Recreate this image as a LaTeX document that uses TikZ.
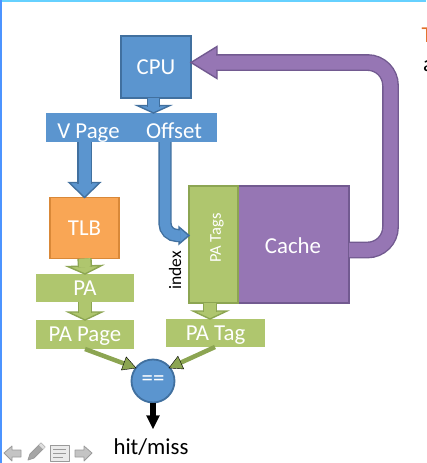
\documentclass[tikz,border=0pt]{standalone}
\usepackage{fontspec}
\setmainfont{Carlito}
\usetikzlibrary{calc}
\definecolor{bluefill}{HTML}{5B95CF}
\definecolor{blueline}{HTML}{41709F}
\definecolor{greenfill}{HTML}{AFC66E}
\definecolor{greenline}{HTML}{8CA552}
\definecolor{purplefill}{HTML}{9676B4}
\definecolor{purpleline}{HTML}{725A90}
\definecolor{orangefill}{HTML}{F9A655}
\definecolor{orangeline}{HTML}{D98838}
\definecolor{titleorange}{HTML}{E2702A}
\definecolor{iconfill}{HTML}{C4C4C4}
\definecolor{iconline}{HTML}{9A9A9A}
\tikzset{
  box/.style={rectangle, inner sep=0, outer sep=0, line width=1.8pt, text=white, font=\fontsize{22.8}{24}\selectfont},
  bar/.style={box, draw=none, fill=#1, text depth=0pt},
  bartext/.style={inner sep=0, outer sep=0, text=white, font=\fontsize{22.8}{24}\selectfont},
  shaft/.style n args={3}{draw=#2, line width=1.4pt, double=#1, double distance=#3},
  headblue/.style={draw=blueline, fill=bluefill, line width=1.4pt, line join=miter},
  headgreen/.style={draw=greenline, fill=greenfill, line width=1.4pt, line join=miter},
  headpurple/.style={draw=purpleline, fill=purplefill, line width=1.4pt, line join=miter},
  icon/.style={draw=iconline, fill=iconfill, line width=0.8pt, line join=round}
}
% head only: style, point behind the head, tip, half width, length
\newcommand{\blockhead}[5]{
  \coordinate (headbase) at ($(#3)!#5!(#2)$);
  \draw[#1] ($(headbase)!#4!90:(#2)$) -- (#3) -- ($(headbase)!#4!-90:(#2)$) -- cycle;
}
\begin{document}
\begin{tikzpicture}[x=1pt, y=-1pt]
  \useasboundingbox (0,0) rectangle (426,463);

  % slide edges
  \fill[blue!30!cyan!60!white] (0,0) rectangle (426,1.5);
  \fill[blue!60!cyan!70!white] (0,0) rectangle (1.5,463);

  % blocks
  \node[box, draw=blueline, fill=bluefill, minimum width=70pt, minimum height=62pt] (cpu) at (156,67) {CPU};
  \node[bar=bluefill, minimum width=171pt, minimum height=29pt] (vbar) at (131.5,127.5) {};
  \node[bartext, anchor=base] (vpage) at (88.5,138) {V Page};
  \node[bartext, anchor=base] (offset) at (174,138) {Offset};
  \node[box, draw=orangeline, fill=orangefill, minimum width=69pt, minimum height=61pt] (tlb) at (84.5,228) {TLB};
  \node[bar=greenfill, minimum width=98pt, minimum height=28pt] (pa) at (85,288) {PA};
  \node[bar=greenfill, minimum width=98pt, minimum height=29pt] (papage) at (85,334.5) {PA Page};
  \node[box, draw=purpleline, fill=purplefill, minimum width=111pt, minimum height=117pt] (cache) at (293.5,244.5) {};
  \node[bartext] (cachetext) at (293,246) {Cache};
  \node[box, draw=greenline, fill=greenfill, minimum width=49pt, minimum height=117pt] (tags) at (213.5,244.5) {};
  \node[bartext, font=\fontsize{16.5}{18}\selectfont, rotate=90] (tagstext) at (217,238) {PA Tags};
  \node[bar=greenfill, minimum width=99pt, minimum height=28pt] (patag) at (215.5,333) {PA Tag};
  \node[box, circle, draw=blueline, fill=bluefill, minimum size=43pt] (eq) at (153,381) {==};
  \node[inner sep=0, text=black, font=\fontsize{17.5}{19}\selectfont, rotate=90] (index) at (175,270.5) {index};
  \node[inner sep=0, text=black, font=\fontsize{22.8}{24}\selectfont, anchor=base] (hitmiss) at (151,454) {hit/miss};

  % cpu to address bar
  \coordinate (cpuout) at ([xshift=-2.5pt]cpu.south);
  \coordinate (cputip) at (cpuout |- vbar.north);
  \blockhead{headblue}{cpuout}{cputip}{16.5pt}{7.5pt}
  \draw[shaft={bluefill}{blueline}{11pt}] (cpuout) -- ($(cputip)+(0,-6.5)$);

  % v page to tlb
  \coordinate (vout) at (tlb.north |- vbar.south);
  \blockhead{headblue}{vout}{tlb.north}{15.5pt}{15pt}
  \draw[shaft={bluefill}{blueline}{12pt}] (vout) -- ($(tlb.north)+(0,-14)$);

  % offset to tags
  \coordinate (offout) at ([xshift=33.5pt]vbar.south);
  \coordinate (offtip) at ([yshift=9pt]tags.west);
  \blockhead{headblue}{offout |- offtip}{offtip}{8.5pt}{10pt}
  \draw[shaft={bluefill}{blueline}{10.5pt}, rounded corners=12pt] (offout) -- (offout |- offtip) -- ($(offtip)+(-9,0)$);

  % cache back to cpu
  \coordinate (backout) at ([yshift=-5.5pt]cache.east);
  \coordinate (backtip) at ([yshift=4.5pt]cpu.east);
  \blockhead{headpurple}{$(backtip)+(40,0)$}{backtip}{16pt}{26pt}
  \draw[shaft={purplefill}{purpleline}{14pt}, rounded corners=23pt] (backout) -- (390.5,0 |- backout) -- (390.5,0 |- backtip) -- ($(backtip)+(25,0)$);

  % tlb to pa to pa page
  \blockhead{headgreen}{tlb.south}{pa.north}{17pt}{8pt}
  \draw[shaft={greenfill}{greenline}{11.5pt}] (tlb.south) -- ($(pa.north)+(0,-7)$);
  \blockhead{headgreen}{pa.south}{papage.north}{17pt}{8pt}
  \draw[shaft={greenfill}{greenline}{11.5pt}] (pa.south) -- ($(papage.north)+(0,-7)$);

  % tags to pa tag
  \coordinate (tagsout) at (210,0 |- tags.south);
  \coordinate (tagtip) at (tagsout |- patag.north);
  \blockhead{headgreen}{tagsout}{tagtip}{17pt}{8pt}
  \draw[shaft={greenfill}{greenline}{11.5pt}] (tagsout) -- ($(tagtip)+(0,-7)$);

  % compare
  \coordinate (pageout) at (85,0 |- papage.south);
  \coordinate (tagout) at (215,0 |- patag.south);
  \coordinate (pagein) at (136,368);
  \coordinate (tagin) at (169,368);
  \draw[draw=greenline, line width=4.5pt] (pageout) -- ($(pagein)!8pt!(pageout)$);
  \blockhead{fill=greenline}{pageout}{pagein}{7pt}{13pt}
  \draw[draw=greenline, line width=4.5pt] (tagout) -- ($(tagin)!8pt!(tagout)$);
  \blockhead{fill=greenline}{tagout}{tagin}{7pt}{13pt}

  \draw[black, line width=6pt] (eq.south) -- ($(eq.south)+(0,15)$);
  \coordinate (resulttip) at ($(eq.south)+(0,26)$);
  \blockhead{fill=black}{eq.south}{resulttip}{6.5pt}{13pt}

  % slide controls
  \draw[icon] (4,453) -- (12,446) -- (12,450) -- (21,450) -- (21,457) -- (12,457) -- (12,461) -- cycle;
  \draw[icon] (92,453) -- (84,446) -- (84,450) -- (75,450) -- (75,457) -- (84,457) -- (84,461) -- cycle;
  \draw[icon, fill=white!92!black] (50,445) rectangle (69,461);
  \draw[iconline, line width=0.8pt] (53,449) -- (66,449) (53,453) -- (66,453) (53,457) -- (63,457);
  \draw[icon, fill=gray!70] (28,460) -- (30,454) -- (41,443) -- (45,447) -- (34,458) -- cycle;
  \fill[gray!25] (41,443) -- (45,447) -- (43,449) -- (39,445) -- cycle;

  % next column of the slide, cut by the page edge
  \node[inner sep=0, text=titleorange, font=\fontsize{22.8}{24}\selectfont, anchor=base west] (nexttitle) at (421.5,42) {T};
  \node[inner sep=0, text=black, font=\fontsize{22.8}{24}\selectfont, anchor=base west] (nextline) at (423,71) {a};
\end{tikzpicture}
\end{document}
